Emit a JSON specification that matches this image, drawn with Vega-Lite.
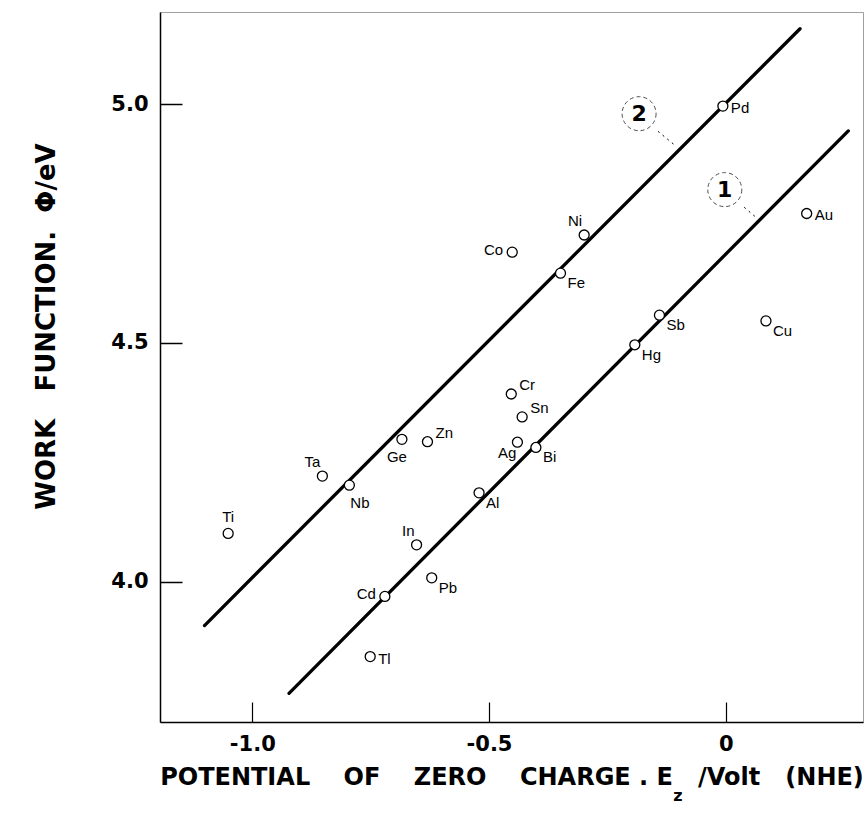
{
  "$schema": "https://vega.github.io/schema/vega-lite/v6.json",
  "width": 703,
  "height": 710,
  "autosize": "none",
  "padding": {"left": 160, "top": 12, "right": 2, "bottom": 96},
  "background": "white",
  "config": {
    "font": "DejaVu Sans",
    "view": {"stroke": "#a0a0a0", "strokeWidth": 1}
  },
  "datasets": {
    "metals": [
      {"metal": "Pd", "x": -0.006, "y": 4.996, "side": "E"},
      {"metal": "Au", "x": 0.171, "y": 4.771, "side": "E"},
      {"metal": "Ni", "x": -0.299, "y": 4.726, "side": "NW"},
      {"metal": "Co", "x": -0.451, "y": 4.69, "side": "W"},
      {"metal": "Fe", "x": -0.349, "y": 4.646, "side": "SE"},
      {"metal": "Sb", "x": -0.14, "y": 4.558, "side": "SE"},
      {"metal": "Cu", "x": 0.085, "y": 4.546, "side": "SE"},
      {"metal": "Hg", "x": -0.192, "y": 4.496, "side": "SE"},
      {"metal": "Cr", "x": -0.453, "y": 4.393, "side": "NE"},
      {"metal": "Sn", "x": -0.43, "y": 4.345, "side": "NE"},
      {"metal": "Zn", "x": -0.63, "y": 4.293, "side": "NE"},
      {"metal": "Ge", "x": -0.684, "y": 4.298, "side": "S"},
      {"metal": "Ag", "x": -0.44, "y": 4.292, "side": "SW"},
      {"metal": "Bi", "x": -0.401, "y": 4.281, "side": "SE"},
      {"metal": "Ta", "x": -0.852, "y": 4.221, "side": "NW"},
      {"metal": "Nb", "x": -0.795, "y": 4.202, "side": "SSE"},
      {"metal": "Al", "x": -0.521, "y": 4.186, "side": "SE"},
      {"metal": "Ti", "x": -1.051, "y": 4.101, "side": "N"},
      {"metal": "In", "x": -0.653, "y": 4.077, "side": "NW"},
      {"metal": "Pb", "x": -0.621, "y": 4.008, "side": "SE"},
      {"metal": "Cd", "x": -0.72, "y": 3.969, "side": "W"},
      {"metal": "Tl", "x": -0.751, "y": 3.843, "side": "E"}
    ],
    "fits": [
      {"line": "1", "x": -0.9225, "y": 3.766},
      {"line": "1", "x": 0.259, "y": 4.944},
      {"line": "2", "x": -1.101, "y": 3.908},
      {"line": "2", "x": 0.157, "y": 5.158}
    ],
    "callouts": [
      {"label": "1", "x": -0.002, "y": 4.821},
      {"label": "2", "x": -0.183, "y": 4.98}
    ],
    "leaders": [
      {"label": "1", "x": 0.039, "y": 4.784, "x2": 0.064, "y2": 4.763},
      {"label": "2", "x": -0.143, "y": 4.943, "x2": -0.105, "y2": 4.912}
    ],
    "subscript": [
      {"text": "z", "x": -0.101, "y": 3.551}
    ]
  },
  "encoding": {
    "x": {
      "field": "x",
      "type": "quantitative",
      "scale": {"domain": [-1.195, 0.29], "nice": false, "zero": false},
      "axis": {
        "title": "POTENTIAL\u00a0\u00a0\u00a0\u00a0OF\u00a0\u00a0\u00a0\u00a0ZERO\u00a0\u00a0\u00a0\u00a0CHARGE\u00a0.\u00a0E\u00a0\u00a0\u00a0/Volt\u00a0\u00a0\u00a0(NHE)",
        "values": [-1, -0.5, 0],
        "labelExpr": "datum.value == 0 ? '0' : replace(format(datum.value, '.1f'), '\u2212', '-')",
        "grid": false,
        "domainColor": "black",
        "domainWidth": 1.5,
        "tickColor": "black",
        "tickWidth": 1.2,
        "tickSize": -20,
        "labelPadding": 31,
        "labelFontSize": 21,
        "labelFontWeight": "bold",
        "labelColor": "black",
        "titleFontSize": 24,
        "titleFontWeight": "bold",
        "titleColor": "black",
        "titleY": 43,
        "titleBaseline": "top"
      }
    },
    "y": {
      "field": "y",
      "type": "quantitative",
      "scale": {"domain": [3.706, 5.193], "nice": false, "zero": false},
      "axis": {
        "title": "WORK\u00a0\u00a0\u00a0FUNCTION.\u00a0\u00a0Φ/eV",
        "values": [4, 4.5, 5],
        "format": ".1f",
        "grid": false,
        "domainColor": "black",
        "domainWidth": 1.5,
        "tickColor": "black",
        "tickWidth": 1.5,
        "tickSize": -22,
        "labelPadding": 34,
        "labelFontSize": 21,
        "labelFontWeight": "bold",
        "labelColor": "black",
        "titleFontSize": 26,
        "titleFontWeight": "bold",
        "titleColor": "black",
        "titleX": -114,
        "titleY": 314,
        "titleAngle": -90,
        "titleBaseline": "middle",
        "titleAlign": "center"
      }
    }
  },
  "layer": [
    {
      "data": {"name": "fits"},
      "mark": {"type": "line", "color": "black", "strokeWidth": 3.3, "strokeCap": "round"},
      "encoding": {"detail": {"field": "line"}, "order": {"field": "x"}}
    },
    {
      "data": {"name": "leaders"},
      "mark": {"type": "rule", "color": "black", "strokeWidth": 1, "strokeDash": [2, 4]},
      "encoding": {"x2": {"field": "x2"}, "y2": {"field": "y2"}}
    },
    {
      "data": {"name": "callouts"},
      "mark": {"type": "point", "shape": "circle", "size": 1156, "filled": false, "color": "black", "strokeWidth": 1, "strokeDash": [4, 3]}
    },
    {
      "data": {"name": "callouts"},
      "mark": {"type": "text", "fontSize": 22, "fontWeight": "bold", "color": "black", "baseline": "middle", "align": "center"},
      "encoding": {"text": {"field": "label"}}
    },
    {
      "data": {"name": "metals"},
      "mark": {"type": "point", "shape": "circle", "size": 100, "filled": true, "fill": "white", "stroke": "black", "strokeWidth": 1.3, "opacity": 1}
    },
    {
      "data": {"name": "metals"},
      "transform": [{"filter": "datum.side == 'E'"}],
      "mark": {"type": "text", "font": "Liberation Sans", "fontSize": 15, "align": "left", "baseline": "middle", "dx": 8, "dy": 2, "color": "black"},
      "encoding": {"text": {"field": "metal"}}
    },
    {
      "data": {"name": "metals"},
      "transform": [{"filter": "datum.side == 'W'"}],
      "mark": {"type": "text", "font": "Liberation Sans", "fontSize": 15, "align": "right", "baseline": "middle", "dx": -9, "dy": -2, "color": "black"},
      "encoding": {"text": {"field": "metal"}}
    },
    {
      "data": {"name": "metals"},
      "transform": [{"filter": "datum.side == 'SE'"}],
      "mark": {"type": "text", "font": "Liberation Sans", "fontSize": 15, "align": "left", "baseline": "middle", "dx": 7, "dy": 10, "color": "black"},
      "encoding": {"text": {"field": "metal"}}
    },
    {
      "data": {"name": "metals"},
      "transform": [{"filter": "datum.side == 'NE'"}],
      "mark": {"type": "text", "font": "Liberation Sans", "fontSize": 15, "align": "left", "baseline": "middle", "dx": 8, "dy": -9, "color": "black"},
      "encoding": {"text": {"field": "metal"}}
    },
    {
      "data": {"name": "metals"},
      "transform": [{"filter": "datum.side == 'N'"}],
      "mark": {"type": "text", "font": "Liberation Sans", "fontSize": 15, "align": "center", "baseline": "middle", "dx": 0, "dy": -16, "color": "black"},
      "encoding": {"text": {"field": "metal"}}
    },
    {
      "data": {"name": "metals"},
      "transform": [{"filter": "datum.side == 'NW'"}],
      "mark": {"type": "text", "font": "Liberation Sans", "fontSize": 15, "align": "right", "baseline": "middle", "dx": -2, "dy": -14, "color": "black"},
      "encoding": {"text": {"field": "metal"}}
    },
    {
      "data": {"name": "metals"},
      "transform": [{"filter": "datum.side == 'S'"}],
      "mark": {"type": "text", "font": "Liberation Sans", "fontSize": 15, "align": "center", "baseline": "middle", "dx": -5, "dy": 18, "color": "black"},
      "encoding": {"text": {"field": "metal"}}
    },
    {
      "data": {"name": "metals"},
      "transform": [{"filter": "datum.side == 'SSE'"}],
      "mark": {"type": "text", "font": "Liberation Sans", "fontSize": 15, "align": "left", "baseline": "middle", "dx": 1, "dy": 18, "color": "black"},
      "encoding": {"text": {"field": "metal"}}
    },
    {
      "data": {"name": "metals"},
      "transform": [{"filter": "datum.side == 'SW'"}],
      "mark": {"type": "text", "font": "Liberation Sans", "fontSize": 15, "align": "right", "baseline": "middle", "dx": -1, "dy": 11, "color": "black"},
      "encoding": {"text": {"field": "metal"}}
    },
    {
      "data": {"name": "subscript"},
      "mark": {"type": "text", "fontSize": 16, "fontWeight": "bold", "align": "center", "baseline": "middle", "color": "black", "clip": false},
      "encoding": {"text": {"field": "text"}}
    }
  ]
}
